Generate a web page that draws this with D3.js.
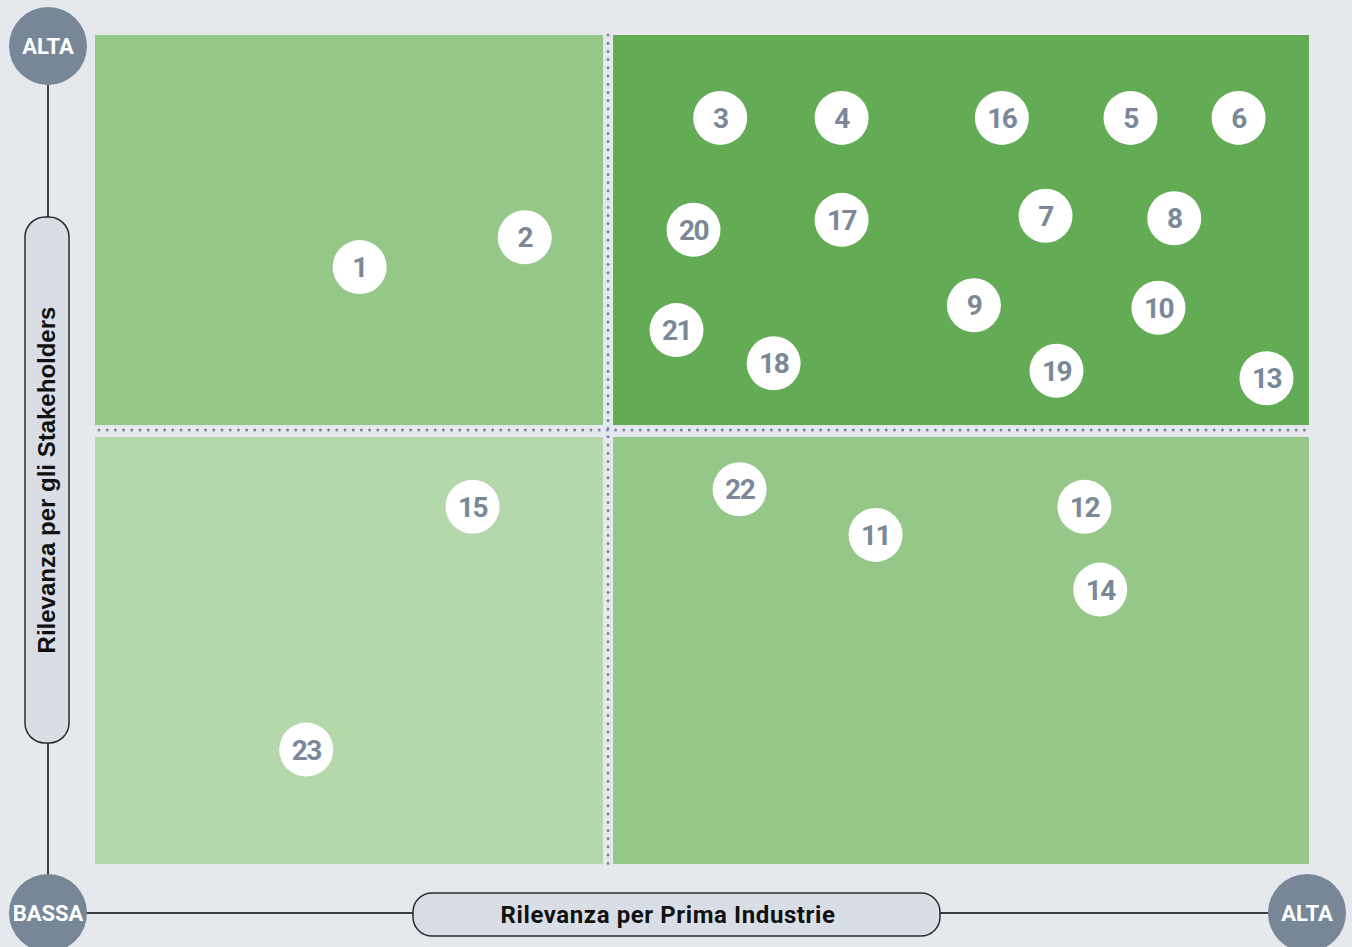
<!DOCTYPE html>
<html>
<head>
<meta charset="utf-8">
<script src="https://d3js.org/d3.v7.min.js"></script>
<style>
  body { margin: 0; background: #e5e9ee; }
  svg { display: block; }
</style>
</head>
<body>
<div class="vis"></div>
<script>
  let width = 1352
  let height = 947

  // topic ids and their position (x = relevance for Prima Industrie, y = relevance for stakeholders, 0-100)
  let ids = [1, 2, 3, 4, 16, 5, 6, 20, 17, 7, 8, 9, 10, 21, 18, 19, 13, 15, 22, 11, 12, 14, 23]
  let xValues = [21.8, 35.4, 51.5, 61.5, 74.7, 85.3, 94.2, 49.3, 61.5, 78.3, 88.9, 72.4, 87.6, 47.9, 55.9, 79.2, 96.5, 31.1, 53.1, 64.3, 81.5, 82.8, 17.4]
  let yValues = [72.0, 75.6, 90.0, 90.0, 90.0, 90.0, 90.0, 76.5, 77.7, 78.2, 77.9, 67.4, 67.1, 64.4, 60.4, 59.5, 58.6, 43.1, 45.2, 39.7, 43.1, 33.1, 13.8]

  let xSplit = 42.26
  let ySplit = 52.35
  let xLabel = 'Rilevanza per Prima Industrie'
  let yLabel = 'Rilevanza per gli Stakeholders'
  let levelLabels = ['ALTA', 'BASSA', 'ALTA']

  let svg = d3.select('.vis').append('svg')
    .attr('width', width).attr('height', height)
    .attr('viewBox', [0, 0, width, height])

  let x = d3.scaleLinear().domain([0, 100]).range([95, 1309])
  let y = d3.scaleLinear().domain([0, 100]).range([864, 35])

  let gap = 5
  let quads = [
    { x0: 0, x1: xSplit, y0: ySplit, y1: 100, fill: '#94c788' },
    { x0: xSplit, x1: 100, y0: ySplit, y1: 100, fill: '#63ab55' },
    { x0: 0, x1: xSplit, y0: 0, y1: ySplit, fill: '#b5d7ac' },
    { x0: xSplit, x1: 100, y0: 0, y1: ySplit, fill: '#94c788' }
  ]

  svg.append('g')
    .selectAll('rect')
    .data(quads)
    .join('rect')
      .attr('x', d => x(d.x0) + (d.x0 > 0 ? gap : 0))
      .attr('y', d => y(d.y1) + (d.y1 < 100 ? gap + 2 : 0))
      .attr('width', d => x(d.x1) - x(d.x0) - gap)
      .attr('height', d => y(d.y0) - y(d.y1) - gap - (d.y1 < 100 ? 2 : 0))
      .attr('fill', d => d.fill)

  // dotted separators
  let dots = svg.append('g')
    .attr('stroke', '#7a8898')
    .attr('stroke-width', 3)
    .attr('stroke-linecap', 'round')
    .attr('stroke-dasharray', '0 8.2')
  dots.append('line')
    .attr('x1', x(xSplit)).attr('x2', x(xSplit))
    .attr('y1', y(100)).attr('y2', y(0))
  dots.append('line')
    .attr('x1', x(0) + 4).attr('x2', x(100))
    .attr('y1', y(ySplit)).attr('y2', y(ySplit))

  // axes frame
  let ax = 48, ay = 913, axRight = 1307, ayTop = 46
  let frame = svg.append('g').attr('stroke', '#3d3d3d').attr('stroke-width', 2)
  frame.append('line').attr('x1', ax).attr('x2', ax).attr('y1', ayTop).attr('y2', ay)
  frame.append('line').attr('x1', ax).attr('x2', axRight).attr('y1', ay).attr('y2', ay)

  // axis pills
  svg.append('rect')
    .attr('x', 25).attr('y', 217).attr('width', 44).attr('height', 526)
    .attr('rx', 20)
    .attr('fill', '#d9dee6').attr('stroke', '#2b2b2b').attr('stroke-width', 1.5)
  svg.append('text')
    .attr('transform', `translate(${46 + 9},${480})rotate(-90)`)
    .attr('text-anchor', 'middle')
    .style('font-family', '"Liberation Sans", Arial, sans-serif')
    .style('font-weight', 'bold')
    .style('font-size', '24px')
    .attr('fill', '#111')
    .text(yLabel)

  svg.append('rect')
    .attr('x', 413).attr('y', 893).attr('width', 527).attr('height', 43)
    .attr('rx', 19)
    .attr('fill', '#d9dee6').attr('stroke', '#2b2b2b').attr('stroke-width', 1.5)
  svg.append('text')
    .attr('x', 668).attr('y', 923)
    .attr('text-anchor', 'middle')
    .style('font-family', 'Roboto, sans-serif')
    .style('font-weight', 'bold')
    .style('font-size', '24px')
    .style('letter-spacing', '0.6px')
    .attr('fill', '#111')
    .text(xLabel)

  // level badges
  let badges = [[ax, ayTop], [ax, ay], [axRight, ay]]
  let badge = svg.append('g')
    .selectAll('g')
    .data(badges)
    .join('g')
      .attr('transform', d => `translate(${d[0]},${d[1]})`)
  badge.append('circle').attr('r', 39).attr('fill', '#788797')
  badge.append('text')
    .attr('text-anchor', 'middle')
    .attr('dy', '0.36em')
    .style('font-family', 'Roboto, sans-serif')
    .style('font-weight', 'bold')
    .style('font-size', '22px')
    .style('letter-spacing', '0px')
    .attr('fill', '#fff')
    .text((d, i) => levelLabels[i])

  // topic markers
  let points = ids.map((id, i) => ({ id, x: xValues[i], y: yValues[i] }))
  let node = svg.append('g')
    .selectAll('g')
    .data(points)
    .join('g')
      .attr('transform', d => `translate(${x(d.x)},${y(d.y)})`)
  node.append('circle').attr('r', 27).attr('fill', '#fff')
  node.append('text')
    .attr('text-anchor', 'middle')
    .attr('dy', '0.36em')
    .style('font-family', 'Roboto, sans-serif')
    .style('font-weight', 'bold')
    .style('font-size', '28px')
    .style('letter-spacing', '-1.5px')
    .attr('fill', '#7a8898')
    .text(d => d.id)
</script>
</body>
</html>
